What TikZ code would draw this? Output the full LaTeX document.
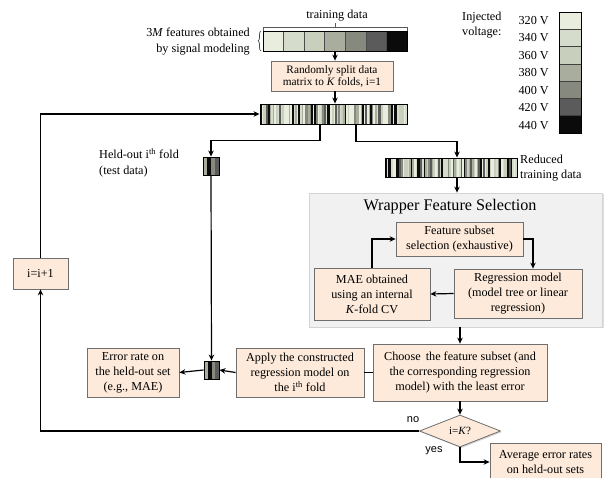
\documentclass[tikz,border=0pt]{standalone}
\usepackage{fontspec}
\setmainfont{Liberation Serif}
\newfontfamily\sansf{Liberation Sans}
\usetikzlibrary{arrows.meta,shapes.geometric,decorations.pathreplacing,shadows}
\definecolor{v1}{HTML}{E9EDDD}
\definecolor{v2}{HTML}{D6DCCB}
\definecolor{v3}{HTML}{C9CFBD}
\definecolor{v4}{HTML}{A9AD9D}
\definecolor{v5}{HTML}{868A7E}
\definecolor{v6}{HTML}{5B5B5B}
\definecolor{v7}{HTML}{0B0B0B}
\colorlet{b1}{v1}\colorlet{b2}{v2}\colorlet{b3}{v3}\colorlet{b4}{v4}
\colorlet{b5}{v5}\colorlet{b6}{v6}\colorlet{b7}{v7}\colorlet{b8}{v1}
\colorlet{b9}{v2}\colorlet{b10}{v7}\colorlet{b11}{v3}\colorlet{b12}{v4}
\definecolor{peach}{HTML}{FDEADA}
\definecolor{boxline}{HTML}{6F6F6F}
\definecolor{wrapfill}{HTML}{F1F1F1}
\definecolor{wrapline}{HTML}{D4D4D4}
\newcommand\mybarcode[6]{%
  \pgfmathsetseed{#6}%
  \pgfmathsetmacro\stw{(#3-#1)/#5}%
  \foreach \k in {1,...,#5}{%
    \pgfmathrandominteger{\rc}{1}{12}%
    \fill[b\rc] ({#1+(\k-1)*\stw},#2) rectangle ({#1+\k*\stw},#4);
  }%
}
\begin{document}
\begin{tikzpicture}[x=1pt,y=-1pt,
  every node/.style={font=\fontsize{12.2}{15}\selectfont},
  box/.style={draw=boxline,line width=0.8pt,fill=peach,align=center,inner sep=1pt,
    drop shadow={shadow xshift=1.2pt,shadow yshift=-1.2pt,opacity=0.35}},
  barnode/.style={draw=black,line width=0.9pt,inner sep=0pt},
  arr/.style={line width=1.2pt,-{Stealth[length=6pt,width=5.5pt]}},
  conn/.style={line width=1.2pt},
  lbl/.style={inner sep=0pt}]
\useasboundingbox (0,0) rectangle (611,478);
\fill[white] (0,0) rectangle (611,478);

% ---------- colour bar of features ----------
\foreach \c [count=\i from 0] in {v1,v2,v3,v4,v5,v6,v7}
  \fill[\c] ({263+\i*144/7},31) rectangle ({263+(\i+1)*144/7},51);
\foreach \i in {1,...,6}
  \draw[black!70,line width=0.6pt] ({263+\i*144/7},31) -- ({263+\i*144/7},51);
\node[barnode,minimum width=144pt,minimum height=20pt] (cbar) at (335,41) {};
\draw[black!65,line width=0.7pt] (263,31) -- (263,27) -- (407,27) -- (407,31);
\draw[black!65,line width=0.7pt] (335,27) -- (335,23.5);
\node[lbl] (train) at (337,16) {training data};
\draw[black!70,line width=0.7pt,decorate,decoration={brace,amplitude=3pt}] (261,51) -- (261,31);
\node[lbl,align=right,anchor=east,font=\fontsize{12.2}{16.5}\selectfont] (feat3m) at (250,41.5) {3\textit{M} features obtained\\by signal modeling};

% ---------- legend ----------
\node[lbl,align=left,anchor=north west] (inj) at (462,12) {Injected\\voltage:};
\foreach \v/\c [count=\i from 0] in {320/v1,340/v2,360/v3,380/v4,400/v5,420/v6,440/v7}{
  \fill[\c] (559,{12+\i*121/7}) rectangle (581,{12+(\i+1)*121/7});
  \draw[black!75,line width=0.6pt] (559,{12+\i*121/7}) rectangle (581,{12+(\i+1)*121/7});
  \node[lbl,anchor=east] at (549,{20.5+\i*17.5}) {\v{} V};
}
\draw[black,line width=0.8pt] (559,12) rectangle (581,133);

% ---------- split box ----------
\node[box,minimum width=122pt,minimum height=30pt,font=\fontsize{11.3}{12}\selectfont] (split) at (332,76)
  {Randomly split data\\matrix to \textit{K} folds, i=1};

% ---------- big barcode ----------
\mybarcode{260}{104}{407}{124}{92}{17}
\node[barnode,minimum width=147pt,minimum height=20pt] (big) at (333.5,114) {};

% ---------- reduced barcode ----------
\mybarcode{385}{158}{517}{177}{82}{42}
\node[barnode,minimum width=132pt,minimum height=19pt] (red) at (451,167.5) {};
\node[lbl,align=left,anchor=west] (redlbl) at (520,168) {Reduced\\training data};

% ---------- held-out barcodes ----------
\foreach \c [count=\i from 0] in {v4,v7,v5,v6}{
  \fill[\c] ({203+\i*4},157) rectangle ({203+(\i+1)*4},175);
  \fill[\c] ({204+\i*3.75},361) rectangle ({204+(\i+1)*3.75},379);
}
\node[barnode,minimum width=16pt,minimum height=18pt] (held) at (211,166) {};
\node[barnode,minimum width=15pt,minimum height=18pt] (held2) at (211.5,370) {};
\node[lbl,align=left,anchor=west,font=\fontsize{12.2}{16}\selectfont] (heldlbl) at (99,163) {Held-out i\textsuperscript{th} fold\\(test data)};

% ---------- wrapper ----------
\node[draw=wrapline,fill=wrapfill,line width=0.8pt,minimum width=293pt,minimum height=134pt,
  drop shadow={shadow xshift=1.5pt,shadow yshift=-1.5pt,opacity=0.25}] (wrap) at (455.5,260) {};
\node[lbl,font=\fontsize{16.2}{18}\selectfont] (wtitle) at (450,207) {Wrapper Feature Selection};
\node[box,minimum width=127pt,minimum height=34pt] (feat) at (459.5,239)
  {Feature subset\\selection (exhaustive)};
\node[box,minimum width=128pt,minimum height=49pt] (reg) at (518,293.5)
  {Regression model\\(model tree or linear\\regression)};
\node[box,minimum width=116pt,minimum height=52pt] (mae) at (372,294)
  {MAE obtained\\using an internal\\\textit{K}-fold CV};

% ---------- lower boxes ----------
\node[box,minimum width=174pt,minimum height=57pt] (choose) at (460,372.5)
  {Choose \,the feature subset (and\\the corresponding regression\\model) with the least error};
\node[box,minimum width=128pt,minimum height=49pt] (apply) at (300,372.5)
  {Apply the constructed\\regression model on\\the i\textsuperscript{th} fold};
\node[box,minimum width=92pt,minimum height=49pt] (err) at (133,372.5)
  {Error rate on\\the held-out set\\(e.g., MAE)};
\node[box,minimum width=55pt,minimum height=31pt] (inc) at (40.5,273.5) {i=i+1};
\node[draw=boxline,line width=0.8pt,fill=peach,diamond,aspect=2.5,minimum width=81pt,
  minimum height=32pt,inner sep=0pt,font=\fontsize{11}{13}\selectfont,
  drop shadow={shadow xshift=1.2pt,shadow yshift=-1.2pt,opacity=0.35}] (dia) at (460,431) {i=\textit{K}?};
\node[box,minimum width=111pt,minimum height=38pt] (avg) at (545.5,462)
  {Average error rates\\on held-out sets};
\node[lbl,font=\sansf\fontsize{11}{13}\selectfont] (no) at (413,420) {no};
\node[lbl,font=\sansf\fontsize{11}{13}\selectfont] (yes) at (434,451) {yes};

% ---------- connectors ----------
\draw[arr] (cbar.south) -- (cbar.south |- split.north);
\draw[arr] (split.south -| cbar.south) -- (big.north -| cbar.south);
\draw[arr] ([xshift=-13.5pt]big.south) -- ++(0,16) -| (held.north);
\draw[arr] ([xshift=22.5pt]big.south) -- ++(0,17) -| ([xshift=6pt]red.north);
\draw[arr] ([xshift=6pt]red.south) -- ([xshift=6pt]red.south |- wrap.north);
\draw[arr] (mae.north) |- (feat.west);
\draw[arr] (feat.east) -| ([xshift=15pt]reg.north);
\draw[arr] (reg.west) -- (mae.east);
\draw[arr] (choose.north |- wrap.south) -- (choose.north);
\draw[conn] (choose.west) -- (apply.east);
\draw[arr] (apply.west) -- (held2.east);
\draw[arr] (held2.west) -- (err.east);
\draw[arr] (held.south) -- (held2.north);
\draw[arr] (choose.south) -- (dia.north);
\draw[arr] (dia.south) |- (avg.west);
\draw[arr] (dia.west) -| (inc.south);
\draw[arr] (inc.north) |- (big.west);
\end{tikzpicture}
\end{document}
